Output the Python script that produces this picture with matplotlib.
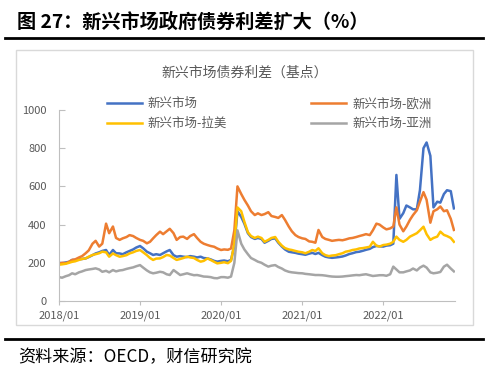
import pandas as pd
import matplotlib
matplotlib.use('Agg')
import matplotlib.pyplot as plt
from matplotlib.lines import Line2D
from matplotlib.patches import Rectangle

plt.rcParams['font.family'] = ['Noto Sans CJK SC', 'DejaVu Sans']

# semi-monthly samples, 2018/01 - 2022/11 (bp)
dates = pd.date_range('2018-01-01', '2022-11-15', freq='SMS')

em_all = [200, 198, 202, 205, 215, 215, 218, 220, 223, 230, 240, 249, 255, 262, 267, 241, 267, 250, 249, 245, 255, 262, 270, 280,
          288, 276, 258, 250, 241, 245, 241, 250, 260, 267, 240, 232, 235, 232, 230, 235, 232, 228, 232, 225, 223, 218, 210, 206,
          210, 212, 208, 215, 290, 470, 440, 405, 355, 335, 325, 330, 325, 305, 315, 325, 328, 305, 285, 270, 258, 255, 252, 248,
          245, 242, 248, 252, 246, 252, 240, 232, 228, 226, 228, 230, 233, 238, 246, 250, 256, 258, 263, 268, 273, 282, 288, 286,
          285, 290, 292, 300, 660, 430, 460, 500, 490, 480, 480, 580, 800, 830, 760, 490, 520, 515, 560, 580, 575, 485]

em_europe = [195, 200, 198, 205, 215, 218, 228, 235, 250, 265, 300, 315, 285, 300, 405, 355, 390, 330, 320, 328, 335, 345, 340, 330,
             320, 315, 302, 310, 328, 345, 363, 350, 365, 378, 355, 320, 335, 337, 325, 340, 350, 330, 310, 300, 293, 288, 284, 275,
             267, 270, 268, 275, 370, 600, 560, 530, 500, 470, 450, 459, 450, 455, 465, 445, 440, 435, 450, 425, 390, 365, 345, 335,
             328, 325, 312, 310, 305, 372, 335, 325, 320, 315, 318, 320, 318, 322, 328, 330, 335, 340, 345, 350, 345, 370, 405, 400,
             385, 375, 380, 390, 490, 400, 365, 390, 425, 450, 475, 520, 570, 530, 410, 470, 480, 495, 470, 475, 430, 372]

em_latam = [190, 192, 195, 200, 205, 208, 215, 220, 223, 232, 241, 245, 250, 258, 255, 232, 249, 240, 232, 235, 240, 249, 255, 262,
            267, 255, 240, 225, 215, 222, 223, 230, 241, 238, 225, 215, 220, 225, 232, 228, 225, 215, 206, 210, 223, 215, 205, 197,
            200, 203, 198, 210, 300, 490, 470, 415, 360, 340, 330, 337, 330, 310, 320, 330, 335, 310, 290, 277, 270, 267, 262, 258,
            255, 250, 258, 267, 262, 276, 250, 240, 235, 238, 240, 245, 250, 258, 262, 267, 270, 275, 277, 280, 284, 310, 290, 285,
            293, 295, 300, 310, 337, 320, 310, 320, 337, 345, 355, 370, 389, 350, 320, 330, 337, 363, 346, 340, 330, 310]

em_asia = [125, 122, 130, 135, 145, 140, 150, 155, 162, 165, 168, 171, 165, 153, 158, 150, 162, 155, 160, 162, 168, 172, 176, 182,
           188, 175, 160, 150, 145, 148, 153, 150, 140, 136, 162, 150, 136, 140, 145, 140, 135, 136, 132, 128, 127, 125, 120, 119,
           125, 125, 122, 128, 200, 370, 300, 270, 245, 225, 215, 206, 200, 190, 180, 185, 188, 178, 170, 160, 153, 150, 148, 146,
           145, 142, 140, 138, 136, 136, 135, 133, 130, 128, 127, 127, 128, 130, 132, 134, 136, 135, 138, 140, 135, 131, 133, 135,
           135, 132, 140, 180, 165, 150, 150, 155, 160, 170, 160, 175, 185, 175, 150, 145, 148, 152, 180, 190, 170, 155]

labels = ['新兴市场', '新兴市场-拉美', '新兴市场-欧洲', '新兴市场-亚洲']
year_ticks = pd.to_datetime(['2018-01-01', '2019-01-01', '2020-01-01', '2021-01-01', '2022-01-01'])
tick_text = ['2018/01', '2019/01', '2020/01', '2021/01', '2022/01']

txt = '#595959'
fig = plt.figure(figsize=(5.0, 3.77), dpi=100)

# header / footer decorations
fig.text(0.034, 0.942, '图 27：新兴市场政府债券利差扩大（%）', fontsize=13.8, fontweight='bold', va='center', ha='left')
fig.add_artist(Line2D([0.01, 0.966], [0.899, 0.899], color='black', lw=2))
fig.add_artist(Rectangle((0.032, 0.137), 0.914, 0.73, fill=False, edgecolor='#D9D9D9', lw=1))
fig.add_artist(Line2D([0.01, 0.966], [0.101, 0.101], color='black', lw=2))
fig.text(0.036, 0.053, '资料来源：OECD，财信研究院', fontsize=12.3, style='italic', va='center', ha='left')

ax = fig.add_axes([0.118, 0.2016, 0.792, 0.5066])
l1, = ax.plot(dates, em_all, color='#4472C4', lw=1.8)
l3, = ax.plot(dates, em_europe, color='#ED7D31', lw=1.8)
l2, = ax.plot(dates, em_latam, color='#FFC000', lw=1.8)
l4, = ax.plot(dates, em_asia, color='#A5A5A5', lw=1.8)

ax.set_ylim(0, 1000)
ax.set_xlim(pd.Timestamp('2018-01-01'), pd.Timestamp('2022-11-20'))
ax.set_yticks([0, 200, 400, 600, 800, 1000])
ax.set_xticks(year_ticks)
ax.set_xticklabels(tick_text)
for s in ['top', 'right']:
    ax.spines[s].set_visible(False)
for s in ['left', 'bottom']:
    ax.spines[s].set_color('#BFBFBF')
ax.tick_params(axis='y', direction='in', length=4, color='#BFBFBF', labelsize=8, labelcolor=txt, pad=9)
ax.tick_params(axis='x', direction='out', length=3, color='#BFBFBF', labelsize=8, labelcolor=txt, pad=4)

fig.text(0.49, 0.806, '新兴市场债券利差（基点）', fontsize=10, color=txt, ha='center', va='center')
fig.legend([l1, l2, l3, l4], labels, ncol=2, loc='upper left', bbox_to_anchor=(0.213, 0.742),
           frameon=False, fontsize=9, labelcolor=txt, handlelength=2.8, handletextpad=0.5,
           columnspacing=6.7, labelspacing=0.55, borderaxespad=0, borderpad=0)

fig.savefig('out.png', dpi=100)
